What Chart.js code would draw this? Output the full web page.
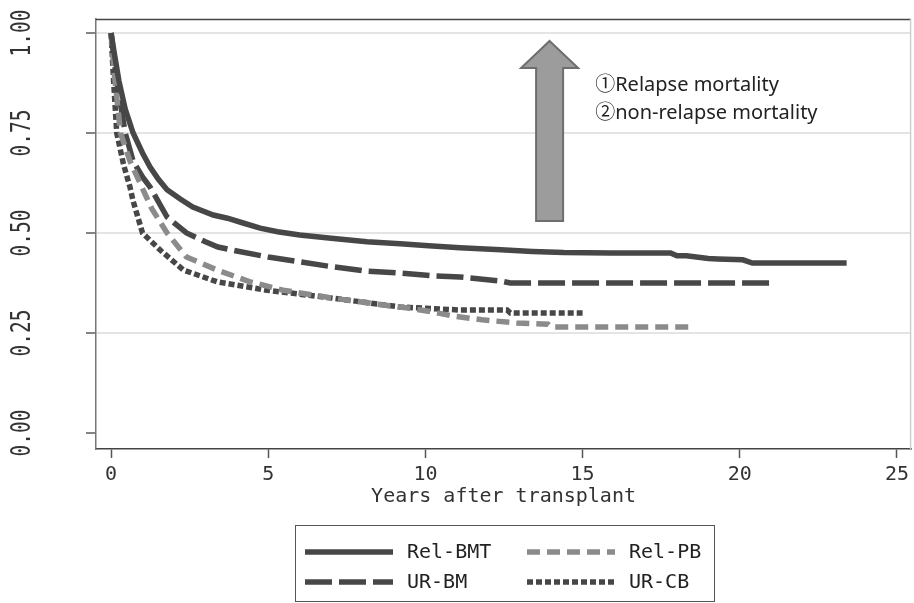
<!DOCTYPE html>
<html>
<head>
<meta charset="utf-8">
<title>Survival after transplant</title>
<script src="https://cdn.jsdelivr.net/npm/chart.js@4.4.1/dist/chart.umd.min.js"></script>
<style>
  html, body { margin: 0; padding: 0; background: #fff; }
  #wrap { width: 914px; height: 603px; }
</style>
</head>
<body>
<div id="wrap"><canvas id="myChart" width="914" height="603"></canvas></div>
<script>
//-----------------------------------
// Data
//-----------------------------------
var seriesNames = ["Rel-BMT", "Rel-PB", "UR-BM", "UR-CB"];

var relBmtYears = [0, 0.1, 0.25, 0.45, 0.7, 1.0, 1.24, 1.5, 1.78, 2.2, 2.6, 3.25, 3.7, 4.2, 4.74, 5.3, 6.0, 7.0, 8.14, 9.2, 10.1, 11.1, 12.4, 13.4, 14.4, 15.9, 17.8, 18.0, 18.3, 19.0, 19.3, 20.1, 20.4, 23.4];
var relBmtSurv  = [1.0, 0.95, 0.88, 0.81, 0.75, 0.70, 0.665, 0.635, 0.608, 0.585, 0.565, 0.545, 0.537, 0.525, 0.512, 0.503, 0.495, 0.487, 0.478, 0.473, 0.468, 0.463, 0.458, 0.454, 0.451, 0.450, 0.450, 0.443, 0.443, 0.436, 0.435, 0.433, 0.425, 0.425];

var relPbYears = [0, 0.1, 0.3, 0.6, 0.92, 1.3, 1.78, 2.4, 3.37, 4.42, 5.47, 7.06, 8.65, 9.5, 10.24, 10.9, 11.8, 12.9, 13.9, 14.0, 18.4];
var relPbSurv  = [1.0, 0.9, 0.75, 0.68, 0.625, 0.56, 0.50, 0.44, 0.4075, 0.378, 0.357, 0.337, 0.32, 0.312, 0.3025, 0.292, 0.283, 0.275, 0.272, 0.265, 0.265];

var urBmYears = [0, 0.1, 0.2, 0.45, 0.7, 1.0, 1.24, 1.78, 2.4, 3.0, 3.4, 4.0, 5.0, 6.0, 7.0, 8.1, 9.2, 10.2, 11.1, 12.4, 12.7, 21.0];
var urBmSurv  = [1.0, 0.93, 0.87, 0.75, 0.68, 0.64, 0.615, 0.54, 0.50, 0.478, 0.465, 0.455, 0.44, 0.428, 0.416, 0.405, 0.40, 0.393, 0.39, 0.38, 0.375, 0.375];

var urCbYears = [0, 0.08, 0.18, 0.4, 0.6, 0.7, 1.0, 1.56, 2.3, 3.37, 4.96, 7.06, 9.2, 11.1, 12.6, 12.7, 15.0];
var urCbSurv  = [1.0, 0.88, 0.75, 0.67, 0.615, 0.58, 0.50, 0.4575, 0.4075, 0.378, 0.357, 0.337, 0.315, 0.3075, 0.3075, 0.30, 0.30];

var xTicks = [0, 5, 10, 15, 20, 25];
var yTicks = [0, 0.25, 0.5, 0.75, 1.0];

var noteLines = ["\u2460Relapse mortality", "\u2461non-relapse mortality"];

//-----------------------------------
// helpers
//-----------------------------------
function toPoints(xs, ys) {
  var pts = [];
  for (let i = 0; i < xs.length; i++) {
    pts.push({ x: xs[i], y: ys[i] });
  }
  return pts;
}

var dark = "#474747";
var light = "#8b8b8b";
var monoFont = "'DejaVu Sans Mono', 'Liberation Mono', monospace";

//---------------------------------------------------------
// plugin: rotated y labels, frame, arrow note and legend box
//---------------------------------------------------------
var extrasPlugin = {
  id: "extras",
  afterDraw: function (chart) {
    var ctx = chart.ctx;
    var area = chart.chartArea;
    var xs = chart.scales.x;
    var ys = chart.scales.y;

    // y tick labels, reading bottom to top
    ctx.save();
    ctx.fillStyle = "#333";
    ctx.font = "26px " + monoFont;
    ctx.textAlign = "center";
    ctx.textBaseline = "middle";
    ys.ticks.forEach(function (t) {
      var py = ys.getPixelForValue(t.value);
      ctx.save();
      ctx.translate(23, py);
      ctx.rotate(-Math.PI / 2);
      ctx.scale(0.75, 1);
      ctx.fillText(t.value.toFixed(2), 0, 0);
      ctx.restore();
    });
    ctx.restore();

    // top and right frame
    ctx.save();
    ctx.strokeStyle = "#444";
    ctx.lineWidth = 1.5;
    ctx.beginPath();
    ctx.moveTo(area.left, area.top + 0.5);
    ctx.lineTo(area.right, area.top + 0.5);
    ctx.stroke();
    ctx.strokeStyle = "#cfcfcf";
    ctx.beginPath();
    ctx.moveTo(area.right - 0.5, area.top);
    ctx.lineTo(area.right - 0.5, area.bottom);
    ctx.stroke();
    ctx.restore();

    // arrow
    var ax = xs.getPixelForValue(13.95);
    var tip = ys.getPixelForValue(0.98);
    var headBase = ys.getPixelForValue(0.9125);
    var base = ys.getPixelForValue(0.53);
    ctx.save();
    ctx.fillStyle = "#9c9c9c";
    ctx.strokeStyle = "#6e6e6e";
    ctx.lineWidth = 2;
    ctx.beginPath();
    ctx.moveTo(ax, tip);
    ctx.lineTo(ax + 28.5, headBase);
    ctx.lineTo(ax + 13.5, headBase);
    ctx.lineTo(ax + 13.5, base);
    ctx.lineTo(ax - 13.5, base);
    ctx.lineTo(ax - 13.5, headBase);
    ctx.lineTo(ax - 28.5, headBase);
    ctx.closePath();
    ctx.fill();
    ctx.stroke();
    ctx.restore();

    // note text
    ctx.save();
    ctx.fillStyle = "#222";
    ctx.font = "20px 'Noto Sans', 'Noto Sans CJK JP', sans-serif";
    ctx.textAlign = "left";
    ctx.textBaseline = "middle";
    var tx = xs.getPixelForValue(15.4);
    ctx.fillText(noteLines[0], tx, ys.getPixelForValue(0.87));
    ctx.fillText(noteLines[1], tx, ys.getPixelForValue(0.80));
    ctx.restore();

    // legend box
    ctx.save();
    ctx.strokeStyle = "#555";
    ctx.lineWidth = 1;
    ctx.strokeRect(295.5, 525.5, 419, 76);
    ctx.font = "20px " + monoFont;
    ctx.fillStyle = "#222";
    ctx.textBaseline = "middle";
    ctx.textAlign = "left";
    var colX = [305, 527];
    var rowY = [552, 582];
    chart.data.datasets.forEach(function (ds, i) {
      var lx = colX[i % 2];
      var ly = rowY[Math.floor(i / 2)];
      ctx.save();
      ctx.strokeStyle = ds.borderColor;
      ctx.lineWidth = ds.borderWidth;
      ctx.setLineDash(ds.borderDash || []);
      ctx.beginPath();
      ctx.moveTo(lx, ly);
      ctx.lineTo(lx + 88, ly);
      ctx.stroke();
      ctx.restore();
      ctx.fillText(ds.label, lx + 102, ly + 1);
    });
    ctx.restore();
  }
};

//---------------------------------------------------------
// build the chart
//---------------------------------------------------------
function displayGraph() {
  var grapharea = document.getElementById("myChart");

  const data = {
    datasets: [
      { label: seriesNames[0], data: toPoints(relBmtYears, relBmtSurv), borderColor: dark, borderWidth: 5.5, borderDash: [] },
      { label: seriesNames[1], data: toPoints(relPbYears, relPbSurv), borderColor: light, borderWidth: 5.5, borderDash: [13, 7] },
      { label: seriesNames[2], data: toPoints(urBmYears, urBmSurv), borderColor: dark, borderWidth: 5.5, borderDash: [27, 7] },
      { label: seriesNames[3], data: toPoints(urCbYears, urCbSurv), borderColor: dark, borderWidth: 5.5, borderDash: [6, 3] }
    ]
  };

  const config = {
    type: "line",
    data: data,
    options: {
      responsive: false,
      animation: false,
      devicePixelRatio: 1,
      layout: { padding: { top: 19, right: 1, left: 0, bottom: 94 } },
      elements: {
        point: { radius: 0 },
        line: { tension: 0, borderCapStyle: "butt", fill: false }
      },
      plugins: {
        legend: { display: false },
        tooltip: { enabled: false }
      },
      scales: {
        x: {
          type: "linear",
          min: -0.48,
          max: 25.45,
          afterBuildTicks: function (s) { s.ticks = xTicks.map(function (v) { return { value: v }; }); },
          afterFit: function (s) { s.height = 60; },
          grid: { drawOnChartArea: false, tickLength: 9, tickColor: "#555", tickWidth: 1.5 },
          border: { color: "#444", width: 1.5 },
          ticks: { color: "#333", padding: 5, maxRotation: 0, font: { family: monoFont, size: 20 } },
          title: { display: true, text: "Years after transplant", color: "#333", padding: 0, font: { family: monoFont, size: 20 } }
        },
        y: {
          type: "linear",
          min: -0.04,
          max: 1.035,
          afterBuildTicks: function (s) { s.ticks = yTicks.map(function (v) { return { value: v }; }); },
          afterFit: function (s) { s.width = 96; },
          grid: {
            color: function (c) { return c.tick && c.tick.value === 0 ? "rgba(0,0,0,0)" : "#e4e4e4"; },
            lineWidth: 2,
            tickLength: 10,
            tickColor: "#333",
            tickWidth: 1.2
          },
          border: { color: "#777", width: 1.5 },
          ticks: { display: false }
        }
      }
    },
    plugins: [extrasPlugin]
  };

  const myChart = new Chart(grapharea, config);
}
displayGraph();
</script>
</body>
</html>
